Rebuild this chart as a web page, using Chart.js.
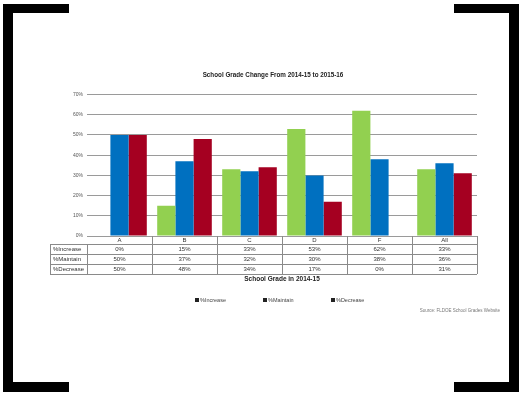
<!DOCTYPE html>
<html>
<head>
<meta charset="utf-8">
<script src="https://cdn.jsdelivr.net/npm/chart.js@4/dist/chart.umd.min.js"></script>
<style>
  html, body { margin: 0; padding: 0; background: #fff; }
  #wrap { width: 521px; height: 393px; }
</style>
</head>
<body>
<div id="wrap"><canvas id="mycanvas" width="521" height="393"></canvas></div>
<script>
// grade change data, percent of schools per 2014-15 grade
var grades = ['A', 'B', 'C', 'D', 'F', 'All'];
var pctIncrease = [0, 15, 33, 53, 62, 33];
var pctMaintain = [50, 37, 32, 30, 38, 36];
var pctDecrease = [50, 48, 34, 17, 0, 31];
var seriesNames = ['%Increase', '%Maintain', '%Decrease'];
var yMax = 70;
var yStep = 10;

var FONT = '"Liberation Sans", Arial, sans-serif';
var colors = ['#92d050', '#0070c0', '#a50021'];

// frame, data table, legend and source line
var extras = {
	id: 'extras',
	beforeDraw: function(chart){
		var c = chart.ctx;
		c.save();
		c.fillStyle = '#fff';
		c.fillRect(0, 0, chart.width, chart.height);
		c.restore();
	},
	afterDraw: function(chart){
		var c = chart.ctx;
		var x = chart.scales.x;
		var area = chart.chartArea;
		var rows = [pctIncrease, pctMaintain, pctDecrease];
		var tableLeft = 50;
		var top0 = area.bottom;
		var rowTop = 244, rowH = 10;
		c.save();

		// table grid
		c.strokeStyle = '#8a8a8a';
		c.lineWidth = 1;
		for(var r = 0; r <= rows.length; r++){
			var yy = rowTop + r * rowH + 0.5;
			c.beginPath();
			c.moveTo(tableLeft, yy);
			c.lineTo(area.right, yy);
			c.stroke();
		}
		c.beginPath();
		c.moveTo(tableLeft + 0.5, rowTop);
		c.lineTo(tableLeft + 0.5, rowTop + rows.length * rowH);
		c.stroke();
		var w = (area.right - area.left) / grades.length;
		for(var i = 0; i <= grades.length; i++){
			var xx = Math.round(area.left + i * w) + 0.5;
			c.beginPath();
			c.moveTo(xx, i == 0 ? rowTop : top0);
			c.lineTo(xx, rowTop + rows.length * rowH);
			c.stroke();
		}

		// table text
		c.fillStyle = '#333';
		c.font = '6px ' + FONT;
		c.textBaseline = 'middle';
		for(var r = 0; r < rows.length; r++){
			var cy = rowTop + r * rowH + rowH / 2 + 0.5;
			c.textAlign = 'left';
			c.fillText(seriesNames[r], tableLeft + 3, cy);
			c.textAlign = 'center';
			for(var i = 0; i < grades.length; i++){
				c.fillText(rows[r][i] + '%', x.getPixelForValue(i), cy);
			}
		}

		// legend
		var legendX = [195, 263, 331];
		c.font = '5.5px ' + FONT;
		c.textAlign = 'left';
		for(var k = 0; k < seriesNames.length; k++){
			c.fillStyle = '#222';
			c.fillRect(legendX[k], 298, 4, 4);
			c.fillStyle = '#444';
			c.fillText(seriesNames[k], legendX[k] + 5, 300.5);
		}

		// source
		c.font = '4.5px ' + FONT;
		c.textAlign = 'right';
		c.fillStyle = '#777';
		c.fillText('Source: FLDOE School Grades Website', 500, 311);

		// black corner frame
		c.fillStyle = '#000';
		c.fillRect(3, 4, 10, 388);
		c.fillRect(3, 4, 66, 9);
		c.fillRect(3, 382, 66, 10);
		c.fillRect(509, 4, 10, 388);
		c.fillRect(454, 4, 65, 9);
		c.fillRect(454, 382, 65, 10);
		c.restore();
	}
};

var chartdata = {
	labels: grades,
	datasets: [
		{ label: seriesNames[0], backgroundColor: colors[0], data: pctIncrease },
		{ label: seriesNames[1], backgroundColor: colors[1], data: pctMaintain },
		{ label: seriesNames[2], backgroundColor: colors[2], data: pctDecrease }
	]
};

new Chart(document.getElementById('mycanvas'), {
	type: 'bar',
	data: chartdata,
	plugins: [extras],
	options: {
		responsive: false,
		animation: false,
		layout: { padding: { left: 69, right: 44, top: 60, bottom: 108 } },
		datasets: { bar: { categoryPercentage: 0.84, barPercentage: 1.0, borderWidth: 0 } },
		plugins: {
			legend: { display: false },
			tooltip: { enabled: false },
			title: {
				display: true,
				text: 'School Grade Change From 2014-15 to 2015-16',
				color: '#222',
				font: { family: FONT, size: 6.3, weight: 'bold' },
				padding: { top: 11, bottom: 16 }
			}
		},
		scales: {
			x: {
				grid: { display: false, drawTicks: false },
				border: { display: false },
				ticks: { color: '#333', font: { family: FONT, size: 6 }, padding: 1 },
				title: {
					display: true,
					text: 'School Grade in 2014-15',
					color: '#222',
					font: { family: FONT, size: 6.5, weight: 'bold' },
					padding: { top: 0, bottom: 2 }
				},
				afterFit: function(scale){ scale.height = 49; }
			},
			y: {
				min: 0,
				max: yMax,
				grid: { color: '#9a9a9a', drawTicks: false },
				border: { display: false },
				ticks: {
					stepSize: yStep,
					color: '#555',
					padding: 4,
					font: { family: FONT, size: 5 },
					callback: function(v){ return v + '%'; }
				},
				afterFit: function(scale){ scale.width = 18; }
			}
		}
	}
});
</script>
</body>
</html>
